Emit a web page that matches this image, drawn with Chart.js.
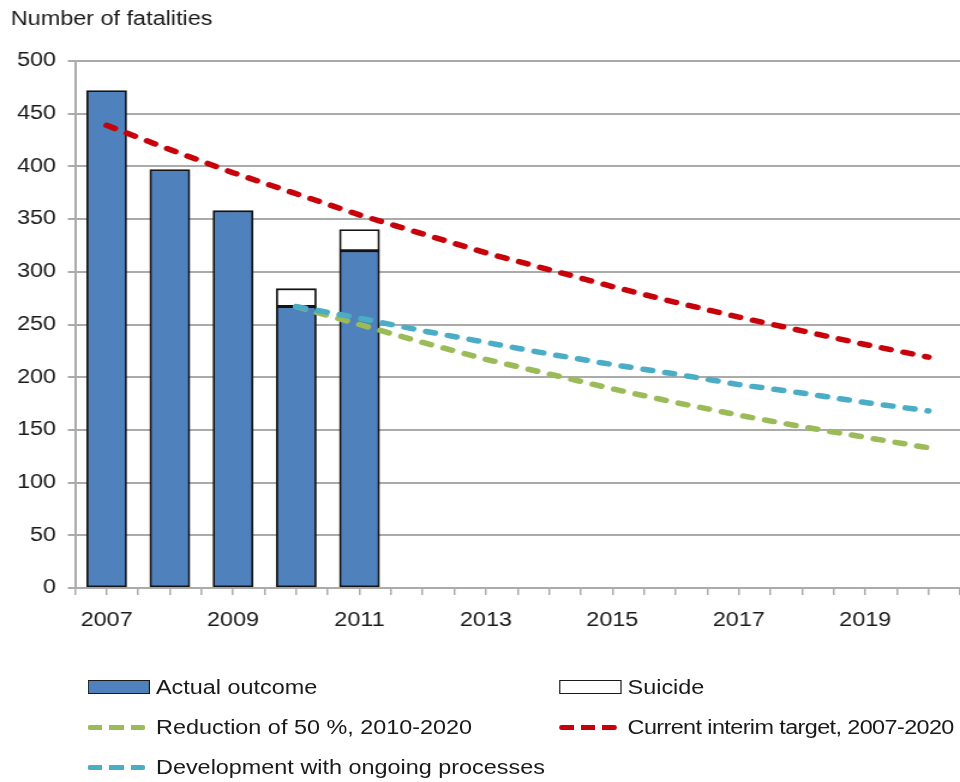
<!DOCTYPE html>
<html>
<head>
<meta charset="utf-8">
<script src="https://cdn.jsdelivr.net/npm/chart.js@4/dist/chart.umd.min.js"></script>
<style>
  html, body { margin: 0; padding: 0; background: #fff; overflow: hidden; }
  /* the original picture is stretched sideways, so the whole chart is drawn 800 wide and scaled */
  #wrap { position: relative; width: 800px; height: 782px; transform: scaleX(1.2); transform-origin: 0 0; }
  #c { position: absolute; left: 0; top: 0; }
  #legend {
    position: absolute; left: 73px; top: 667px; width: 727px;
    display: grid; grid-template-columns: 393px auto; grid-auto-rows: 40px;
    font: 19.5px "Liberation Sans", Arial, sans-serif; color: #1a1a1a; white-space: nowrap;
  }
  .item { display: flex; align-items: center; }
  .item.tight span { letter-spacing: -0.5px; }
  .slot { width: 57px; flex: none; display: flex; align-items: center; }
  .box { width: 52px; height: 14px; box-sizing: border-box; border: 1.5px solid #1a1a1a; }
  .dash { width: 48px; height: 5px; }
</style>
</head>
<body>
<div id="wrap">
  <canvas id="c" width="800" height="782"></canvas>
  <div id="legend"></div>
</div>
<script>
const metai = [2007, 2008, 2009, 2010, 2011, 2012, 2013, 2014, 2015, 2016, 2017, 2018, 2019, 2020];

// bars (2007-2011)
const faktas = [472, 397, 358, 267, 320];
const savizudybes = [null, null, null, 17, 20];

// targets
const tarpinisTikslas = [439, 416, 394, 374, 354, 336, 318, 302, 286, 271, 257, 244, 231, 219]; // 2007-2020
const mazinimas50 = [267, 250, 233, 217, 203, 189, 176, 164, 153, 143, 133];   // 2010-2020
const vystymas = [267, 256, 244, 233, 222, 212, 203, 193, 185, 176, 168];      // 2010-2020

const yTicks = [0, 50, 100, 150, 200, 250, 300, 350, 400, 450, 500];

const pavadinimai = {
    faktas: 'Actual outcome',
    savizudybes: 'Suicide',
    mazinimas: 'Reduction of 50 %, 2010-2020',
    tikslas: 'Current interim target, 2007-2020',
    vystymas: 'Development with ongoing processes'
};

const spalvos = {
    bar: '#4f81bd',
    raudona: '#c8000a',
    zalia: '#9bbb59',
    melyna: '#4bacc6',
    tinklas: '#ababab'
};

function taskai(reiksmes, nuo) {
    const out = [];
    reiksmes.forEach((v, i) => {
        if (v !== null) out.push({ x: metai[nuo + i], y: v });
    });
    return out;
}

const linija = (label, data, color, stack) => ({
    type: 'line',
    label: label,
    data: data,
    stack: stack,
    borderColor: color,
    backgroundColor: color,
    borderWidth: 5.5,
    borderDash: [7.5, 11],
    borderCapStyle: 'round',
    pointRadius: 0,
    fill: false,
    tension: 0
});

const stulpelis = (label, data, color) => ({
    type: 'bar',
    label: label,
    data: data,
    stack: 'bars',
    backgroundColor: color,
    borderColor: '#141414',
    borderWidth: 1.8,
    borderSkipped: false,
    barThickness: 33.3
});

const datasets = [
    linija(pavadinimai.tikslas, taskai(tarpinisTikslas, 0), spalvos.raudona, 'r'),
    linija(pavadinimai.vystymas, taskai(vystymas, 3), spalvos.melyna, 'b'),
    linija(pavadinimai.mazinimas, taskai(mazinimas50, 3), spalvos.zalia, 'g'),
    stulpelis(pavadinimai.faktas, taskai(faktas, 0), spalvos.bar),
    stulpelis(pavadinimai.savizudybes, taskai(savizudybes, 0), '#ffffff')
];

const sriftas = { family: '"Liberation Sans", Arial, sans-serif', size: 19.5, weight: 'normal' };

const chart = new Chart(document.getElementById('c'), {
    data: { datasets: datasets },
    options: {
        responsive: false,
        animation: false,
        layout: { padding: { left: 9, top: 0, right: 0, bottom: 149 } },
        plugins: {
            legend: { display: false },
            tooltip: { enabled: false },
            title: {
                display: true,
                text: 'Number of fatalities',
                align: 'start',
                color: '#1a1a1a',
                font: sriftas,
                padding: { top: 8.3, bottom: 29.3 }
            }
        },
        scales: {
            x: {
                type: 'linear',
                stacked: true,
                offset: false,
                min: 2006.5,
                max: 2020.5,
                afterFit: (s) => { s.height = 45; s.paddingRight = 0; s.paddingLeft = 0; },
                ticks: {
                    stepSize: 0.5,
                    autoSkip: false,
                    maxRotation: 0,
                    minRotation: 0,
                    padding: 14,
                    color: '#1a1a1a',
                    font: sriftas,
                    callback: (v) => (Number.isInteger(v) && v % 2 === 1) ? String(v) : ''
                },
                grid: { offset: false, drawOnChartArea: false, drawTicks: true, tickLength: 7, color: spalvos.tinklas, lineWidth: 1.5 },
                border: { display: true, color: spalvos.tinklas, width: 2 }
            },
            y: {
                stacked: true,
                min: 0,
                max: 500,
                afterFit: (s) => { s.width = 53.5; },
                afterBuildTicks: (s) => { s.ticks = yTicks.map(v => ({ value: v })); },
                ticks: { padding: 9.8, color: '#1a1a1a', font: sriftas },
                grid: { color: spalvos.tinklas, lineWidth: 2, tickLength: 6 },
                border: { display: true, color: spalvos.tinklas, width: 2 }
            }
        }
    }
});

// legend laid out like the original: two columns
const legendTvarka = [
    pavadinimai.faktas, pavadinimai.savizudybes,
    pavadinimai.mazinimas, pavadinimai.tikslas,
    pavadinimai.vystymas
];
const legend = document.getElementById('legend');
legendTvarka.forEach((label) => {
    const ds = chart.data.datasets.find(d => d.label === label);
    const item = document.createElement('div');
    item.className = 'item' + (label === pavadinimai.tikslas ? ' tight' : '');
    const slot = document.createElement('div');
    slot.className = 'slot';
    const sw = document.createElement('div');
    if (ds.type === 'bar') {
        sw.className = 'box';
        sw.style.background = ds.backgroundColor;
    } else {
        sw.className = 'dash';
        sw.style.background = 'repeating-linear-gradient(90deg, ' + ds.borderColor + ' 0 12px, transparent 12px 18px)';
        sw.style.borderRadius = '2px';
    }
    slot.appendChild(sw);
    const txt = document.createElement('span');
    txt.textContent = label;
    item.appendChild(slot);
    item.appendChild(txt);
    legend.appendChild(item);
});
</script>
</body>
</html>
